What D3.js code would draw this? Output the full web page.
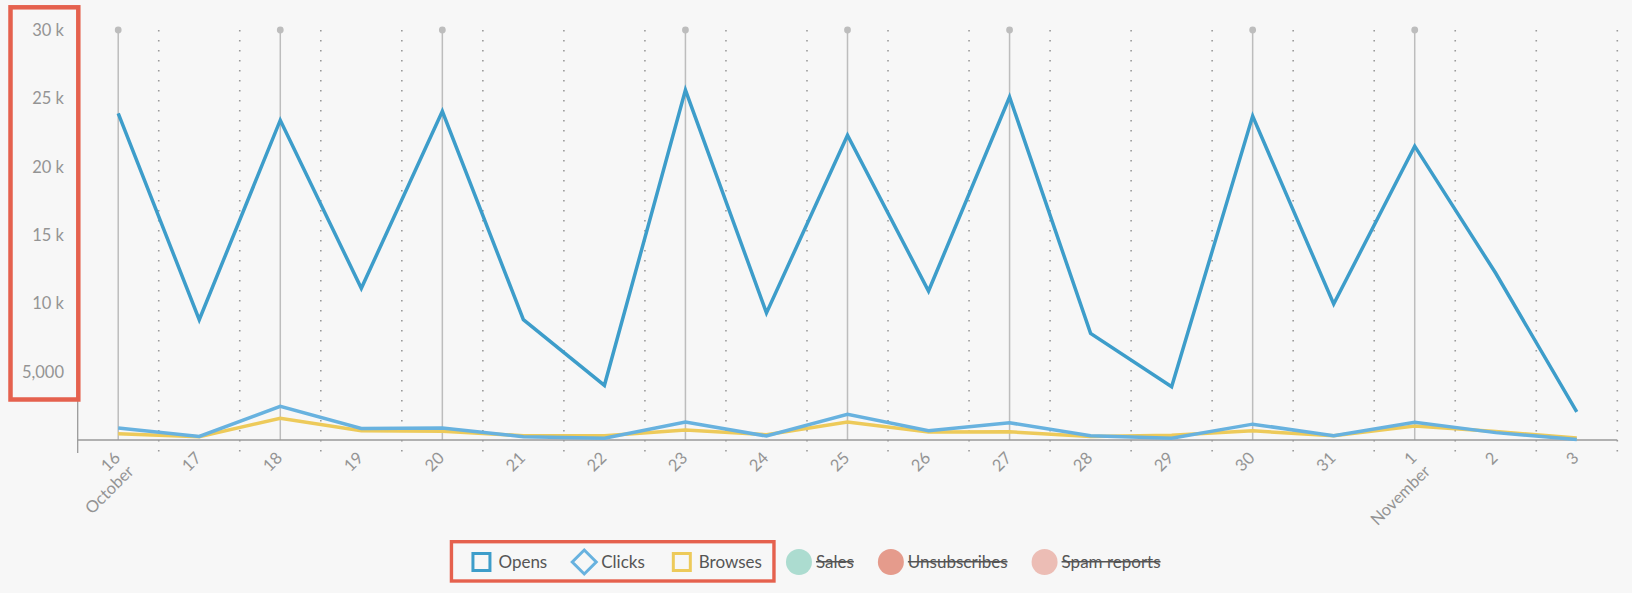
<!DOCTYPE html>
<html>
<head>
<meta charset="utf-8">
<script src="https://cdn.jsdelivr.net/npm/d3@7"></script>
<style>
  html, body { margin: 0; padding: 0; background: #f7f7f7; }
  svg { display: block; }
  text { font-family: Lato, "Open Sans", sans-serif; }
</style>
</head>
<body>
<svg id="chart" width="1632" height="593"></svg>
<script>
// ---------------- data ----------------
const dates = ["2017-10-16","2017-10-17","2017-10-18","2017-10-19","2017-10-20","2017-10-21","2017-10-22",
               "2017-10-23","2017-10-24","2017-10-25","2017-10-26","2017-10-27","2017-10-28","2017-10-29",
               "2017-10-30","2017-10-31","2017-11-01","2017-11-02","2017-11-03"];
const opens   = [23900, 8800, 23400, 11100, 24050, 8800, 4000, 25600, 9300, 22300, 10900, 25100, 7800, 3900, 23700, 9950, 21500, 12200, 2050];
const clicks  = [880, 260, 2460, 850, 880, 240, 130, 1310, 290, 1880, 680, 1260, 310, 130, 1160, 310, 1290, 540, 40];
const browses = [460, 240, 1590, 680, 640, 320, 310, 730, 390, 1310, 580, 600, 260, 340, 670, 310, 1030, 620, 150];
const sendDates = ["2017-10-16","2017-10-18","2017-10-20","2017-10-23","2017-10-25","2017-10-27","2017-10-30","2017-11-01"];
const yTicks = [5000, 10000, 15000, 20000, 25000, 30000];
const yTickLabels = ["5,000", "10 k", "15 k", "20 k", "25 k", "30 k"];
const monthLabels = {"2017-10-16": "October", "2017-11-01": "November"};
const legendNames = ["Opens", "Clicks", "Browses", "Sales", "Unsubscribes", "Spam reports"];
const legendColors = ["#3d9dca", "#68b2df", "#edca5a", "#acdcd0", "#e59b8c", "#ecbdb5"];
const legendShapes = ["square", "diamond", "square", "circle", "circle", "circle"];
const legendActive = [true, true, true, false, false, false];

// ---------------- setup ----------------
const parse = d3.utcParse("%Y-%m-%d");
const W = 1632, H = 593;
const svg = d3.select("#chart");
const plotLeft = 77.7, plotRight = 1617.3, plotTop = 30, plotBottom = 440;

const x0 = d3.utcHour.offset(parse(dates[0]), -12);
const x1 = d3.utcHour.offset(parse(dates[dates.length - 1]), 12);
const x = d3.scaleUtc().domain([x0, x1]).range([plotLeft, plotRight]);
const y = d3.scaleLinear().domain([0, 30000]).range([plotBottom, plotTop]);

// dotted half-day grid lines
const gridDates = dates.map(d => d3.utcHour.offset(parse(d), 12));

svg.append("g").selectAll("line").data(gridDates).join("line")
  .attr("x1", d => x(d)).attr("x2", d => x(d))
  .attr("y1", plotTop).attr("y2", plotBottom + 13)
  .attr("stroke", "#9a9a9a").attr("stroke-width", 1.6)
  .attr("stroke-dasharray", "1.6,8.4");

// send marker lines with dots
const sends = sendDates.map(parse);
svg.append("g").selectAll("line").data(sends).join("line")
  .attr("x1", d => x(d)).attr("x2", d => x(d))
  .attr("y1", plotTop).attr("y2", plotBottom)
  .attr("stroke", "#bdbdbd").attr("stroke-width", 1.5);
svg.append("g").selectAll("circle").data(sends).join("circle")
  .attr("cx", d => x(d)).attr("cy", plotTop).attr("r", 3.4)
  .attr("fill", "#bdbdbd");

// axes lines
svg.append("line").attr("x1", plotLeft).attr("x2", plotRight)
  .attr("y1", plotBottom).attr("y2", plotBottom)
  .attr("stroke", "#9a9a9a").attr("stroke-width", 1.3);
svg.append("line").attr("x1", plotLeft).attr("x2", plotLeft)
  .attr("y1", plotTop).attr("y2", plotBottom + 13)
  .attr("stroke", "#9a9a9a").attr("stroke-width", 1.3);

// y tick labels
svg.append("g").selectAll("text").data(yTicks).join("text")
  .attr("x", 64).attr("y", d => y(d)).attr("dy", "0.36em")
  .attr("text-anchor", "end").attr("font-size", 16.5).attr("fill", "#949494")
  .text((d, i) => yTickLabels[i]);

// x tick labels
const xl = svg.append("g").selectAll("text").data(dates).join("text")
  .attr("text-anchor", "end").attr("font-size", 16.5).attr("fill", "#949494")
  .attr("transform", d => `translate(${x(parse(d)) + 3},${plotBottom + 19}) rotate(-45)`);
xl.append("tspan").attr("x", 0).attr("y", 0).text(d => String(+d.slice(8)));
xl.filter(d => monthLabels[d]).append("tspan").attr("x", 0).attr("dy", "1.15em").text(d => monthLabels[d]);

// series lines
const line = d3.line().x((d, i) => x(parse(dates[i]))).y(d => y(d));
const series = [
  {values: browses, color: legendColors[2]},
  {values: clicks,  color: legendColors[1]},
  {values: opens,   color: legendColors[0]}
];
svg.append("g").selectAll("path").data(series).join("path")
  .attr("d", s => line(s.values))
  .attr("fill", "none").attr("stroke", s => s.color)
  .attr("stroke-width", 3.5).attr("stroke-linejoin", "miter").attr("stroke-linecap", "butt");

// legend
const lg = svg.append("g");
const legendY = 562;
const items = [];
let cx = 0;
legendNames.forEach((name, i) => {
  const g = lg.append("g");
  const t = g.append("text").attr("x", cx + 17).attr("y", legendY + 5.5)
    .attr("font-size", 17).attr("fill", "#555").text(name);
  const w = t.node().getComputedTextLength();
  items.push({g, iconX: cx, textEnd: cx + 17 + w, textStart: cx + 17, w});
  cx = cx + 17 + w + 37;
});
const totalLeft = -10, totalRight = items[items.length - 1].textEnd;
const offset = W / 2 - (totalLeft + totalRight) / 2;
lg.attr("transform", `translate(${offset},0)`);
items.forEach((it, i) => {
  const c = legendColors[i];
  if (legendShapes[i] === "square") {
    it.g.append("rect").attr("x", it.iconX - 8.5).attr("y", legendY - 8.5)
      .attr("width", 17).attr("height", 17)
      .attr("fill", "none").attr("stroke", c).attr("stroke-width", 3);
  } else if (legendShapes[i] === "diamond") {
    it.g.append("path")
      .attr("d", `M${it.iconX},${legendY - 12} L${it.iconX + 12},${legendY} L${it.iconX},${legendY + 12} L${it.iconX - 12},${legendY} Z`)
      .attr("fill", "none").attr("stroke", c).attr("stroke-width", 3);
  } else {
    it.g.insert("circle", "text").attr("cx", it.iconX).attr("cy", legendY).attr("r", 13).attr("fill", c);
  }
  if (!legendActive[i]) {
    it.g.append("line").attr("x1", it.textStart).attr("x2", it.textEnd)
      .attr("y1", legendY - 0.3).attr("y2", legendY - 0.3)
      .attr("stroke", "#555").attr("stroke-width", 1.4);
  }
});

// highlight boxes (annotation)
const red = "#e5614e";
svg.append("rect").attr("x", 10.5).attr("y", 7.3).attr("width", 67.8).attr("height", 392.2)
  .attr("fill", "none").attr("stroke", red).attr("stroke-width", 4.5);
const boxL = offset + items[0].iconX - 30, boxR = offset + items[2].textEnd + 12;
svg.append("rect").attr("x", boxL).attr("y", 541.7).attr("width", boxR - boxL).attr("height", 39.3)
  .attr("fill", "none").attr("stroke", red).attr("stroke-width", 3.4);
</script>
</body>
</html>
